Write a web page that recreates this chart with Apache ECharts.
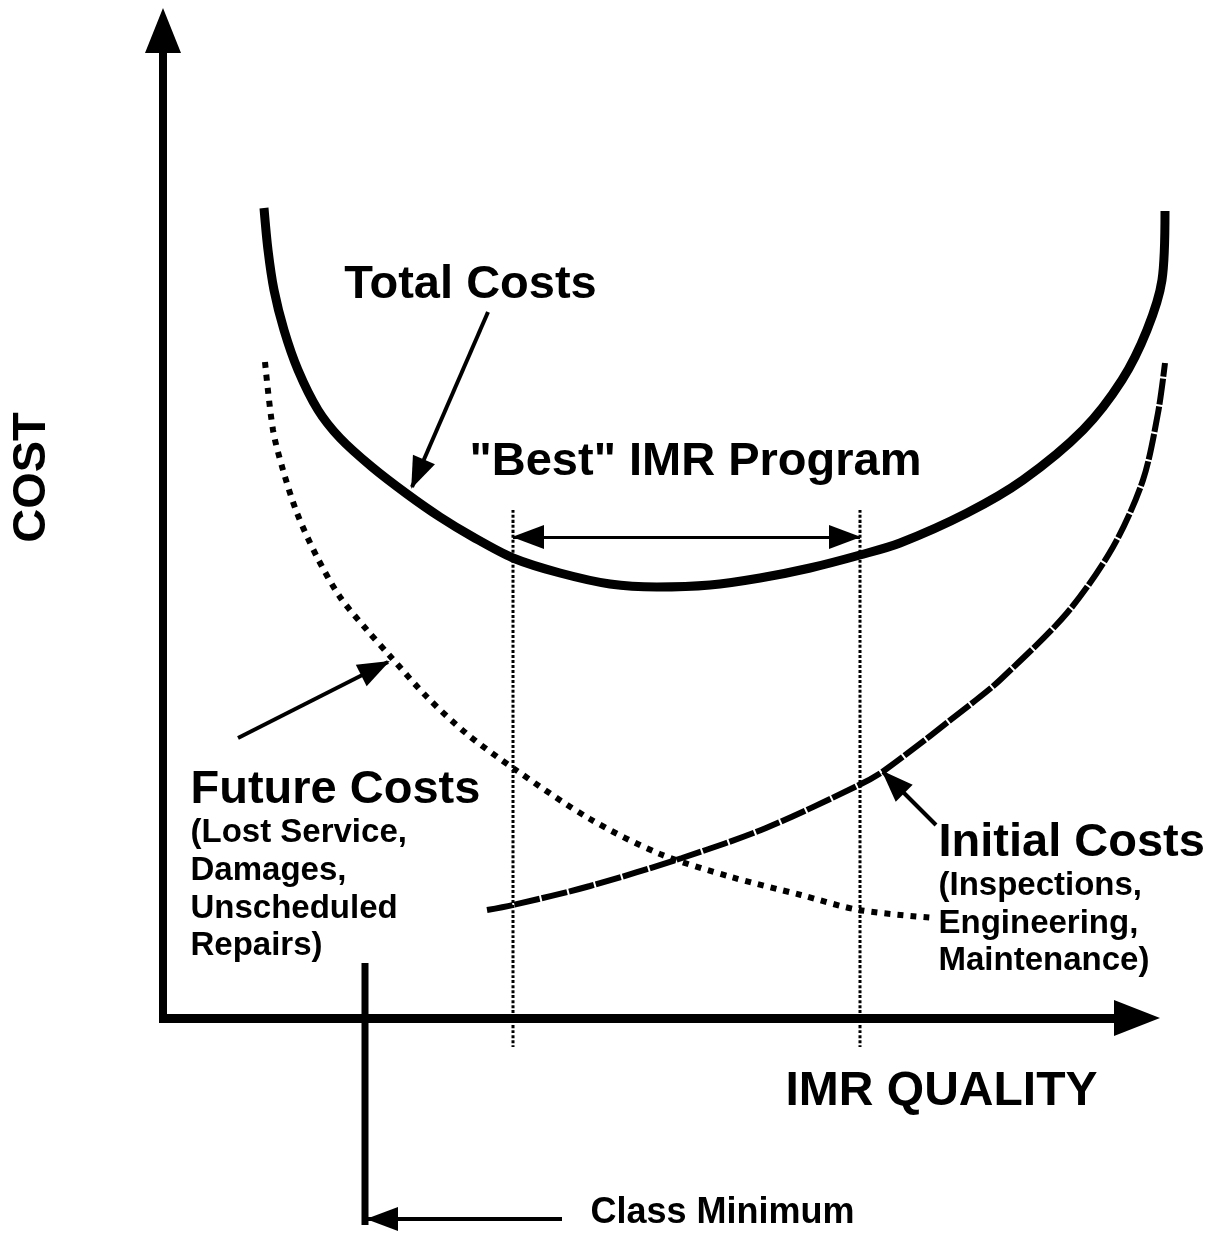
<!DOCTYPE html>
<html>
<head>
<meta charset="utf-8">
<title>IMR quality vs cost</title>
<script src="https://cdn.jsdelivr.net/npm/echarts@6/dist/echarts.min.js"></script>
<style>
  html, body { margin: 0; background: #fff; }
  #chart { width: 1220px; height: 1233px; }
</style>
</head>
<body>
<div id="chart"></div>
<script>
// Curves: [IMR quality, cost] in arbitrary units
let totalCosts = [[1.01, 8.10], [1.05, 7.68], [1.11, 7.28], [1.21, 6.88], [1.35, 6.48], [1.55, 6.08],
                  [1.77, 5.80], [2.09, 5.51], [2.44, 5.24], [2.77, 5.01], [3.10, 4.81], [3.50, 4.60],
                  [3.97, 4.45], [4.47, 4.34], [4.94, 4.31], [5.47, 4.33], [5.97, 4.40], [6.47, 4.50],
                  [6.97, 4.63], [7.37, 4.75], [8.04, 5.05], [8.60, 5.38], [9.20, 5.88], [9.59, 6.38],
                  [9.84, 6.88], [9.99, 7.38], [10.02, 8.07]];
let initialCosts = [[3.24, 1.08], [3.50, 1.13], [4.27, 1.32], [5.19, 1.60], [6.03, 1.90], [6.96, 2.33],
                    [7.22, 2.48], [8.13, 3.18], [8.37, 3.38], [9.04, 4.05], [9.50, 4.71], [9.80, 5.38],
                    [9.95, 6.05], [10.02, 6.55]];
let futureCosts = [[1.02, 6.56], [1.10, 5.88], [1.20, 5.48], [1.34, 5.05], [1.54, 4.61], [1.77, 4.21],
                   [2.04, 3.88], [2.27, 3.62], [2.64, 3.21], [3.04, 2.84], [3.50, 2.50], [4.27, 1.99],
                   [4.97, 1.64], [5.68, 1.41], [6.38, 1.23], [6.96, 1.08], [7.72, 1.00]];

// Drawn axes: [from, to] (to = middle of the arrow head)
let costAxis = [[0, -0.045], [0, 9.875]];
let qualityAxis = [[-0.04, 0], [9.74, 0]];

// "Best" program range and the class minimum
let bestRange = [3.50, 6.97];      // quality at the two dotted lines
let bestGuide = [5.08, -0.29];     // top and bottom of the dotted lines
let bestArrowY = 4.81;
let classMin = 2.02;
let classMinSpan = [0.55, -2.07];

// Pointer arrows: [from, to] (to = arrow tip)
let pointers = [
    [[3.25, 7.06], [2.49, 5.31]],   // Total Costs
    [[0.75, 2.80], [2.25, 3.56]],   // Future Costs
    [[7.73, 1.93], [7.20, 2.46]],   // Initial Costs
    [[3.99, -2.01], [2.05, -2.01]]  // Class Minimum
];

// Text: [x, y, text, size, align, rotate]
let labels = [
    [-1.30, 5.40, "COST", 47, "center", 90],
    [3.08, 7.32, "Total Costs", 47, "center", 0],
    [5.33, 5.55, "\"Best\" IMR Program", 47, "center", 0],
    [0.28, 2.27, "Future Costs", 47, "left", 0],
    [0.28, 1.85, "(Lost Service,", 33, "left", 0],
    [0.28, 1.47, "Damages,", 33, "left", 0],
    [0.28, 1.09, "Unscheduled", 33, "left", 0],
    [0.28, 0.72, "Repairs)", 33, "left", 0],
    [7.76, 1.74, "Initial Costs", 47, "left", 0],
    [7.76, 1.32, "(Inspections,", 33, "left", 0],
    [7.76, 0.94, "Engineering,", 33, "left", 0],
    [7.76, 0.57, "Maintenance)", 33, "left", 0],
    [7.79, -0.74, "IMR QUALITY", 48, "center", 0],
    [5.60, -1.96, "Class Minimum", 36, "center", 0]
];

const font = "Liberation Sans";
const chart = echarts.init(document.getElementById("chart"));

function curve(data, width, type) {
    return {
        type: "line",
        data: data,
        smooth: 0.3,
        symbol: "none",
        clip: false,
        silent: true,
        lineStyle: { color: "#000", width: width, type: type }
    };
}

// Straight arrows drawn as mark lines; pull = how far the head is moved back (half its length puts the tip on the end point)
function arrowSet(pairs, width, head, bothEnds, pull) {
    return {
        type: "line",
        data: [],
        silent: true,
        clip: false,
        markLine: {
            silent: true,
            animation: false,
            symbol: [bothEnds ? "triangle" : "none", "triangle"],
            symbolSize: head,
            symbolOffset: [[0, pull], [0, pull]],
            label: { show: false },
            lineStyle: { color: "#000", width: width, type: "solid", opacity: 1 },
            data: pairs.map(p => [{ coord: p[0] }, { coord: p[1] }])
        }
    };
}

let hiddenAxis = {
    type: "value",
    axisLine: { show: false },
    axisTick: { show: false },
    axisLabel: { show: false },
    splitLine: { show: false }
};

let options = {
    animation: false,
    backgroundColor: "#fff",
    grid: { left: 0, right: 0, top: 0, bottom: 0 },
    xAxis: Object.assign({ min: -1.63, max: 10.57 }, hiddenAxis),
    yAxis: Object.assign({ min: -2.15, max: 10.18 }, hiddenAxis),
    series: [
        curve(totalCosts, 9, "solid"),
        curve(initialCosts, 6, [26, 2]),
        curve(futureCosts, 6, [6, 7]),
        curve([[bestRange[0], bestGuide[0]], [bestRange[0], bestGuide[1]]], 3, [3, 2]),
        curve([[bestRange[1], bestGuide[0]], [bestRange[1], bestGuide[1]]], 3, [3, 2]),
        curve([[classMin, classMinSpan[0]], [classMin, classMinSpan[1]]], 7, "solid"),
        arrowSet([costAxis], 8, [36, 45], false, 0),
        arrowSet([qualityAxis], 9, [36, 46], false, 0),
        arrowSet(pointers, 4, [24, 32], false, 14),
        arrowSet([[[bestRange[0], bestArrowY], [bestRange[1], bestArrowY]]], 3, [24, 32], true, 15),
        {
            type: "scatter",
            silent: true,
            clip: false,
            symbolSize: 1,
            itemStyle: { color: "rgba(0,0,0,0)", opacity: 1 },
            data: labels.map(l => ({
                value: [l[0], l[1]],
                label: {
                    show: true,
                    position: [0, 0],
                    formatter: l[2],
                    fontSize: l[3],
                    align: l[4],
                    verticalAlign: "middle",
                    rotate: l[5],
                    color: "#000",
                    opacity: 1,
                    fontFamily: font,
                    fontWeight: "bold"
                }
            }))
        }
    ]
};

chart.setOption(options);
</script>
</body>
</html>
